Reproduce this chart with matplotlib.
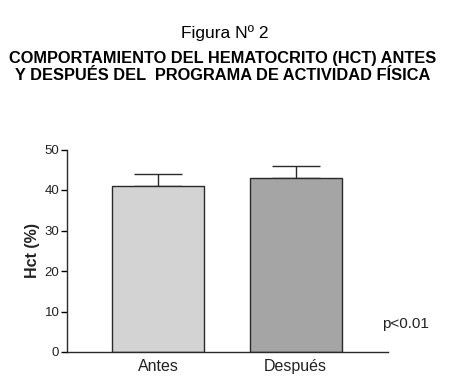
import matplotlib
matplotlib.use("Agg")
import matplotlib.pyplot as plt

# data
groups = ["Antes", "Después"]
hct_mean = [41, 43]
hct_err = [3, 3]
bar_colors = ["#d3d3d3", "#a5a5a5"]
yticks = [0, 10, 20, 30, 40, 50]

plt.rcParams['font.family'] = ['Liberation Sans', 'DejaVu Sans']

fig = plt.figure(figsize=(4.51, 3.83), dpi=100)
ax = fig.add_axes([67 / 451, 1 - 352 / 383, (388 - 67) / 451, (352 - 149.5) / 383])

pos = list(range(len(groups)))
ax.bar(pos, hct_mean, width=0.668, color=bar_colors, edgecolor='#2a2a2a', linewidth=1.0, zorder=2)
ax.errorbar(pos, hct_mean, yerr=[[0] * len(hct_err), hct_err], fmt='none',
            ecolor='#2a2a2a', elinewidth=1.0, capsize=23.5 * 72 / 100, capthick=1.0, zorder=1)

ax.set_xlim(-0.66, 1.67)
ax.set_ylim(0, 50)
ax.set_yticks(yticks)
ax.set_xticks(pos)
ax.set_xticklabels(groups, fontsize=11.5, color='#222222')
ax.tick_params(axis='x', length=0, pad=5)
ax.tick_params(axis='y', length=4, width=1, labelsize=9.5, pad=1.5, labelcolor='#222222')
for s in ['top', 'right']:
    ax.spines[s].set_visible(False)
for s in ['left', 'bottom']:
    ax.spines[s].set_linewidth(1.0)
    ax.spines[s].set_color('#2a2a2a')
ax.set_ylabel('Hct (%)', fontsize=11.5, fontweight='bold', labelpad=3, color='#222222')

fig.text(382 / 451, 1 - 324 / 383, 'p<0.01', fontsize=11, ha='left', va='center', color='#222222')

fig.text(225 / 451, 1 - 33 / 383, 'Figura Nº 2', fontsize=12.5, ha='center', va='center')
fig.text(223 / 451, 1 - 59 / 383, 'COMPORTAMIENTO DEL HEMATOCRITO (HCT) ANTES',
         fontsize=11.8, fontweight='bold', ha='center', va='center')
fig.text(223 / 451, 1 - 76 / 383, 'Y DESPUÉS DEL  PROGRAMA DE ACTIVIDAD FÍSICA',
         fontsize=11.8, fontweight='bold', ha='center', va='center')

fig.savefig('out.png', dpi=100)
